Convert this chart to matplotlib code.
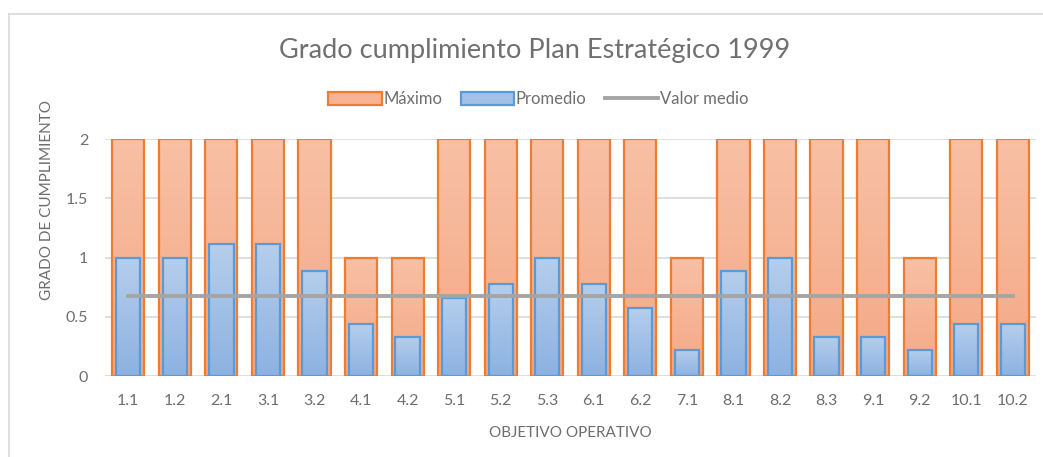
import matplotlib.pyplot as plt
import numpy as np
from matplotlib.colors import LinearSegmentedColormap
from matplotlib.patches import Patch
from matplotlib.lines import Line2D

plt.rcParams['font.family'] = ['Lato', 'DejaVu Sans']

# Data
objetivos = ['1.1', '1.2', '2.1', '3.1', '3.2', '4.1', '4.2', '5.1', '5.2', '5.3',
             '6.1', '6.2', '7.1', '8.1', '8.2', '8.3', '9.1', '9.2', '10.1', '10.2']
maximo = [2, 2, 2, 2, 2, 1, 1, 2, 2, 2, 2, 2, 1, 2, 2, 2, 2, 1, 2, 2]
promedio = [1.0, 1.0, 1.11, 1.11, 0.89, 0.44, 0.33, 0.66, 0.78, 1.0,
            0.78, 0.57, 0.22, 0.89, 1.0, 0.33, 0.33, 0.22, 0.44, 0.44]
valor_medio = [0.675, 0.675, 0.675, 0.675, 0.675, 0.675, 0.675, 0.675, 0.675, 0.675,
               0.675, 0.675, 0.675, 0.675, 0.675, 0.675, 0.675, 0.675, 0.675, 0.675]

orange_edge = '#ED7D31'
blue_edge = '#5B9BD5'
orange_cmap = LinearSegmentedColormap.from_list('o', ['#F4A886', '#F8C0A5'])
blue_cmap = LinearSegmentedColormap.from_list('b', ['#8DB2E1', '#B6CEEC'])
text_grey = '#6E6E6E'

fig = plt.figure(figsize=(10.43, 4.57), dpi=100)
ax = fig.add_axes([0.1007, 0.1772, 0.8926, 0.5186])

x = np.arange(len(objetivos))
grad = np.linspace(0, 1, 64).reshape(-1, 1)


def gradient_bars(values, width, cmap, edge, z):
    bars = ax.bar(x, values, width=width, facecolor='none', edgecolor=edge,
                  linewidth=1.6, zorder=z + 0.5)
    for b in bars:
        x0, y0 = b.get_x(), b.get_y()
        im = ax.imshow(grad, extent=[x0, x0 + b.get_width(), y0, y0 + b.get_height()],
                       origin='lower', cmap=cmap, aspect='auto', zorder=z)
        im.set_clip_path(b)
    return bars


gradient_bars(maximo, 0.69, orange_cmap, orange_edge, 2)
gradient_bars(promedio, 0.52, blue_cmap, blue_edge, 3)
ax.plot(x, valor_medio, color='#A5A5A5', linewidth=2.8, zorder=5)

ax.set_xlim(-0.5, len(objetivos) - 0.5)
ax.set_ylim(0, 2)
ax.set_yticks([0, 0.5, 1, 1.5, 2])
ax.set_yticklabels(['0', '0.5', '1', '1.5', '2'])
ax.set_xticks(x)
ax.set_xticklabels(objetivos)
ax.yaxis.grid(True, color='#D9D9D9', linewidth=1.2, zorder=0)
ax.set_axisbelow(True)
for s in ax.spines.values():
    s.set_visible(False)
ax.tick_params(axis='both', length=0, labelsize=11.5, colors=text_grey)
ax.tick_params(axis='x', pad=13)
ax.tick_params(axis='y', pad=12)

fig.text(0.5125, 0.889, 'Grado cumplimiento Plan Estratégico 1999', ha='center', va='center',
         fontsize=19.5, color='#707070')
fig.text(0.045, 0.5625, 'GRADO DE CUMPLIMIENTO', rotation=90, ha='center', va='center',
         fontsize=11, color=text_grey)
fig.text(0.547, 0.052, 'OBJETIVO OPERATIVO', ha='center', va='center',
         fontsize=11, color=text_grey)

handles = [Patch(facecolor='#F6B495', edgecolor=orange_edge, linewidth=1.6),
           Patch(facecolor='#A3C0E7', edgecolor=blue_edge, linewidth=1.6),
           Line2D([0], [0], color='#A5A5A5', linewidth=2.8)]
fig.legend(handles, ['Máximo', 'Promedio', 'Valor medio'], loc='center',
           bbox_to_anchor=(0.516, 0.783), ncol=3, frameon=False, fontsize=12,
           labelcolor=text_grey, handlelength=3.2, handleheight=0.8,
           handletextpad=0.1, columnspacing=1.1)

# light grey chart border (top and left edges visible in the crop)
fig.add_artist(Line2D([0.0086, 0.0086], [0, 0.969], color='#D9D9D9', linewidth=1.2))
fig.add_artist(Line2D([0.0086, 1.0], [0.969, 0.969], color='#D9D9D9', linewidth=1.2))

fig.savefig('out.png', dpi=100)
